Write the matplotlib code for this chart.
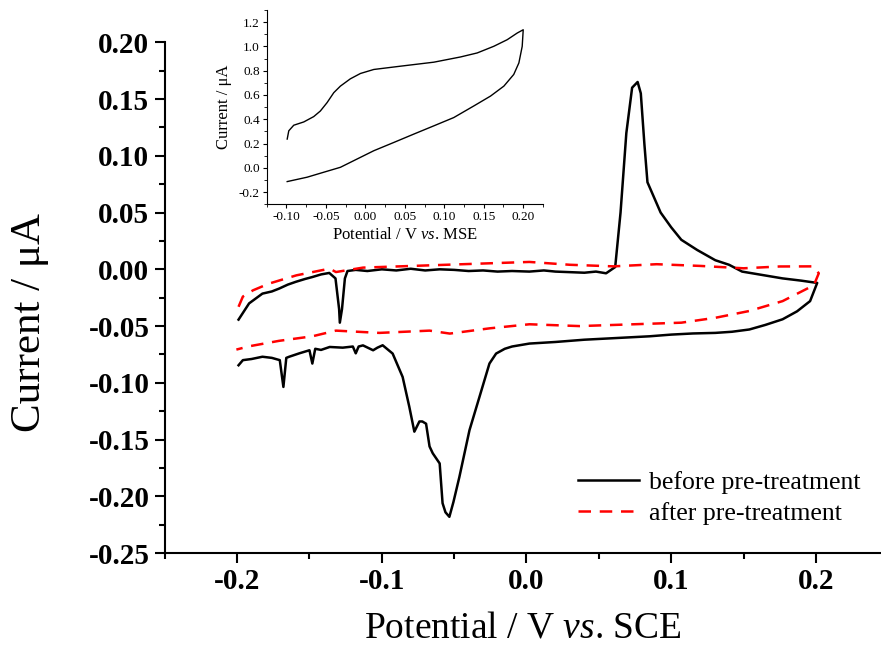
import matplotlib
matplotlib.use('Agg')
import matplotlib.pyplot as plt
from matplotlib.ticker import MultipleLocator

plt.rcParams['font.family'] = ['Liberation Serif', 'DejaVu Serif']
plt.rcParams['mathtext.fontset'] = 'custom'
plt.rcParams['mathtext.rm'] = 'Liberation Serif'
plt.rcParams['mathtext.it'] = 'Liberation Serif:italic'

# before pre-treatment (one CV loop, potential in V vs SCE, current in uA)
before_E = [-0.199, -0.1917, -0.1825, -0.176, -0.171, -0.165, -0.1594, -0.153, -0.148, -0.142, -0.1363,
            -0.132, -0.1295, -0.129, -0.1275, -0.1255, -0.1237, -0.118, -0.11, -0.10, -0.09, -0.08,
            -0.07, -0.06, -0.05, -0.04, -0.03, -0.02, -0.01, 0.002, 0.012,
            0.02, 0.03, 0.04, 0.048, 0.055, 0.0613, 0.065, 0.069, 0.073, 0.0768, 0.079, 0.0815, 0.0836,
            0.0927, 0.1, 0.107, 0.118, 0.1305, 0.14, 0.149, 0.163, 0.177, 0.19, 0.2009,
            0.196, 0.187, 0.177, 0.165, 0.154, 0.142, 0.1305, 0.115, 0.1, 0.085, 0.07, 0.055, 0.04,
            0.02, 0.002, -0.01, -0.015, -0.021, -0.0256,
            -0.0325, -0.0394, -0.0464, -0.0505, -0.0533, -0.056, -0.058, -0.060, -0.0648, -0.067,
            -0.0694, -0.072, -0.074, -0.0775, -0.081, -0.0856, -0.0925, -0.0994, -0.103, -0.106, -0.113,
            -0.116, -0.118, -0.12, -0.127, -0.136, -0.142, -0.146, -0.148, -0.150, -0.157, -0.164, -0.166,
            -0.168, -0.1705, -0.176, -0.1825, -0.19, -0.196, -0.199]
before_I = [-0.0443, -0.030, -0.0214, -0.0195, -0.017, -0.0135, -0.011, -0.0085, -0.0068, -0.0045, -0.0032,
            -0.008, -0.035, -0.047, -0.035, -0.008, -0.0015, -0.0005, -0.0015, 0.000, -0.001, 0.0005,
            -0.001, 0.000, -0.0005, -0.0015, -0.001, -0.002, -0.0015, -0.002, -0.001,
            -0.002, -0.0025, -0.003, -0.002, -0.0035, 0.002, 0.05, 0.12, 0.16, 0.165, 0.155, 0.11, 0.0767,
            0.050, 0.037, 0.026, 0.017, 0.008, 0.004, -0.002, -0.005, -0.008, -0.010, -0.012,
            -0.028, -0.037, -0.044, -0.049, -0.053, -0.055, -0.056, -0.0565, -0.0575, -0.059, -0.060, -0.061, -0.062,
            -0.064, -0.0654, -0.068, -0.070, -0.0742, -0.083,
            -0.1124, -0.1417, -0.183, -0.205, -0.218, -0.214, -0.206, -0.171, -0.162, -0.156,
            -0.136, -0.134, -0.134, -0.143, -0.121, -0.0948, -0.0742, -0.0669, -0.069, -0.0713, -0.067,
            -0.068, -0.074, -0.068, -0.069, -0.0684, -0.071, -0.070, -0.083, -0.0713, -0.074, -0.077, -0.078,
            -0.1036, -0.080, -0.078, -0.077, -0.079, -0.080, -0.0845]

# after pre-treatment
after_E = [-0.199, -0.196, -0.189, -0.178, -0.159, -0.136, -0.1317, -0.113, -0.067, -0.0325, 0.002,
           0.03, 0.06, 0.09, 0.12, 0.15, 0.175, 0.198, 0.202,
           0.1986, 0.177, 0.154, 0.1305, 0.107, 0.0836, 0.0367, 0.002, -0.0256, -0.053, -0.067,
           -0.1017, -0.1317, -0.148, -0.171, -0.1917, -0.2005]
after_I = [-0.033, -0.024, -0.0185, -0.0126, -0.0053, 0.0006, -0.0024, 0.0015, 0.0035, 0.005, 0.0065,
           0.004, 0.0026, 0.0045, 0.003, 0.0009, 0.0025, 0.0026, -0.0035,
           -0.014, -0.028, -0.0367, -0.0427, -0.047, -0.048, -0.050, -0.0484, -0.052, -0.0566, -0.054,
           -0.056, -0.054, -0.059, -0.063, -0.0678, -0.0707]

# inset: potential in V vs MSE, current in uA
inset_E = [-0.099, -0.097, -0.0907, -0.078, -0.0654, -0.057, -0.0485, -0.040, -0.0316, -0.019,
           -0.0062, 0.0107, 0.0445, 0.0868, 0.1206, 0.1417, 0.1628, 0.1797, 0.1924, 0.200,
           0.1987, 0.1945, 0.188, 0.1755, 0.1586, 0.1375, 0.112, 0.0868, 0.0614, 0.036,
           0.0107, -0.0104, -0.0316, -0.0527, -0.0738, -0.099]
inset_I = [0.237, 0.305, 0.351, 0.378, 0.422, 0.468, 0.537, 0.619, 0.673, 0.733,
           0.777, 0.810, 0.837, 0.870, 0.913, 0.946, 1.001, 1.055, 1.11, 1.137,
           1.0, 0.864, 0.769, 0.673, 0.591, 0.51, 0.414, 0.346, 0.278, 0.209,
           0.141, 0.073, 0.0046, -0.036, -0.077, -0.113]

fig = plt.figure(figsize=(8.81, 6.5), dpi=100)
ax = fig.add_axes([0.187, 0.149, 0.813, 0.786])

ax.plot(before_E, before_I, color='black', lw=1.8, label='before pre-treatment')
ax.plot(after_E, after_I, color='red', lw=1.8, linestyle=(0, (5, 3.5)), label='after pre-treatment')

ax.set_xlim(-0.25, 0.245)
ax.set_ylim(-0.25, 0.20)
ax.spines['top'].set_visible(False)
ax.spines['right'].set_visible(False)
ax.spines['left'].set_linewidth(1.5)
ax.spines['bottom'].set_linewidth(1.5)
ax.xaxis.set_major_locator(MultipleLocator(0.1))
ax.xaxis.set_minor_locator(MultipleLocator(0.05))
ax.yaxis.set_major_locator(MultipleLocator(0.05))
ax.yaxis.set_minor_locator(MultipleLocator(0.025))
ax.tick_params(which='major', direction='out', length=7, width=1.5, labelsize=21, pad=4)
ax.tick_params(which='minor', direction='out', length=4, width=1.5)
ax.set_xticks([-0.2, -0.1, 0.0, 0.1, 0.2])
ax.set_xticklabels(['-0.2', '-0.1', '0.0', '0.1', '0.2'], fontweight='bold')
yt = [-0.25, -0.20, -0.15, -0.10, -0.05, 0.00, 0.05, 0.10, 0.15, 0.20]
ax.set_yticks(yt)
ax.set_yticklabels(['%.2f' % v for v in yt], fontweight='bold')
ax.set_xlabel(r'Potential / V $\mathit{vs}$. SCE', fontsize=27, labelpad=11)
ax.set_ylabel('Current / μA', fontsize=31)
ax.yaxis.set_label_coords(-0.162, 0.452)

ax.legend(loc='upper left', bbox_to_anchor=(0.563, 0.18), borderaxespad=0, frameon=False,
          fontsize=18.5, handlelength=2.35, handletextpad=0.4, labelspacing=0.28)

# inset
ins = fig.add_axes([0.3027, 0.6857, 0.3136, 0.299])
ins.plot(inset_E, inset_I, color='black', lw=1.0)
ins.set_xlim(-0.125, 0.225)
ins.set_ylim(-0.3, 1.3)
ins.spines['top'].set_visible(False)
ins.spines['right'].set_visible(False)
ins.xaxis.set_major_locator(MultipleLocator(0.05))
ins.xaxis.set_minor_locator(MultipleLocator(0.025))
ins.yaxis.set_major_locator(MultipleLocator(0.2))
ins.yaxis.set_minor_locator(MultipleLocator(0.1))
ins.tick_params(which='major', direction='out', length=3, labelsize=9.5, pad=2)
ins.tick_params(which='minor', direction='out', length=2)
ins.set_xticks([-0.10, -0.05, 0.0, 0.05, 0.10, 0.15, 0.20])
ins.set_xticklabels(['%.2f' % v for v in [-0.10, -0.05, 0.0, 0.05, 0.10, 0.15, 0.20]])
ins.set_yticks([-0.2, 0.0, 0.2, 0.4, 0.6, 0.8, 1.0, 1.2])
ins.set_yticklabels(['%.1f' % v for v in [-0.2, 0.0, 0.2, 0.4, 0.6, 0.8, 1.0, 1.2]])
ins.set_xlabel(r'Potential / V $\mathit{vs}$. MSE', fontsize=12, labelpad=3)
ins.set_ylabel('Current / μA', fontsize=12, labelpad=5)

fig.savefig('out.png', dpi=100)
